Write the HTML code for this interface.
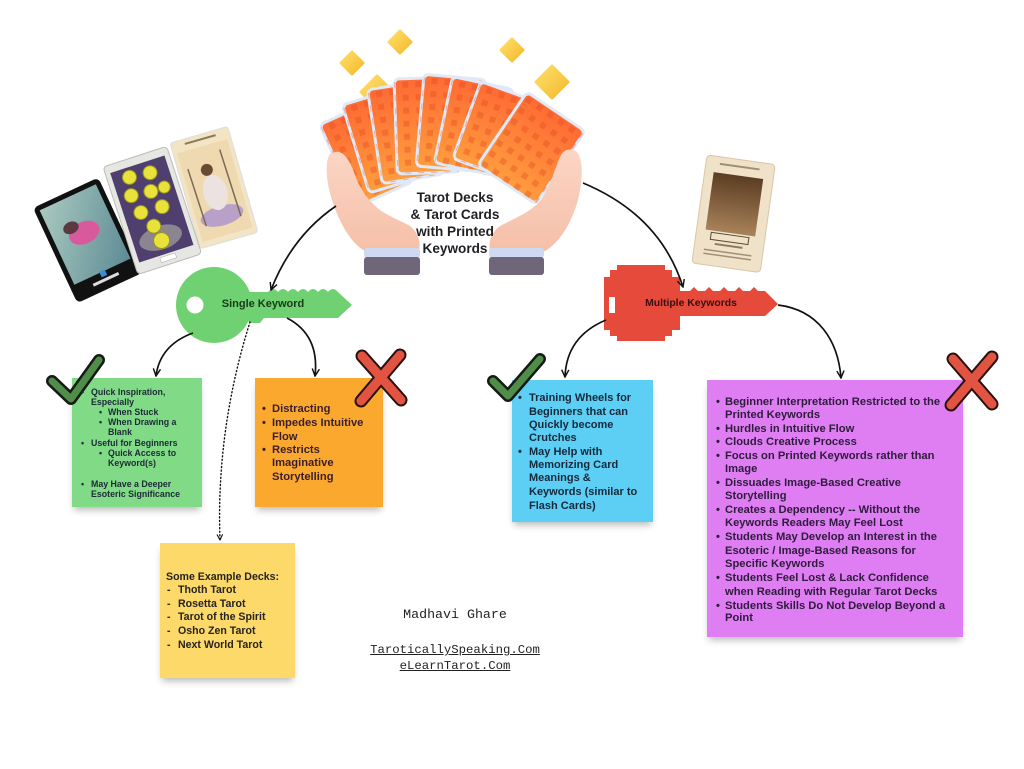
<!DOCTYPE html>
<html><head><meta charset="utf-8">
<style>
html,body{margin:0;padding:0;background:#fff;}
body{width:1024px;height:769px;position:relative;overflow:hidden;font-family:"Liberation Sans",sans-serif;}
svg{position:absolute;left:0;top:0;}
.note{position:absolute;box-shadow:0 5px 7px -2px rgba(0,0,0,0.28);}
.t{position:absolute;white-space:nowrap;font-weight:bold;}
.g .t{font-size:8.8px;line-height:10px;color:#1c2a36;}
.o .t{font-size:11.2px;line-height:14px;color:#3a1d2c;}
.b .t{font-size:11px;line-height:14px;color:#16283a;}
.p .t{font-size:11.2px;line-height:14px;color:#2e1b3d;}
.y .t{font-size:10.6px;line-height:14px;color:#262220;}
.k{position:absolute;white-space:nowrap;font-weight:bold;}
.m{position:absolute;white-space:nowrap;font-family:"Liberation Mono",monospace;color:#222;text-align:center;}
</style></head>
<body>
<svg width="1024" height="769" viewBox="0 0 1024 769" xmlns="http://www.w3.org/2000/svg">
<defs>
 <linearGradient id="og" x1="0" y1="0" x2="0" y2="1"><stop offset="0" stop-color="#ff6a34"/><stop offset="1" stop-color="#ff9d3e"/></linearGradient>
 <pattern id="pat" width="13" height="13" patternUnits="userSpaceOnUse"><rect x="3" y="3" width="6" height="6" fill="#e0451c" opacity=".35"/></pattern>
 <linearGradient id="sk" x1="0" y1="0" x2="0" y2="1"><stop offset="0" stop-color="#fbd5c5"/><stop offset="1" stop-color="#f5c0a8"/></linearGradient>
 <linearGradient id="dia" x1="0" y1="0" x2="1" y2="1"><stop offset="0" stop-color="#fde06a"/><stop offset="1" stop-color="#f5b82c"/></linearGradient>
 <linearGradient id="wat" x1="0" y1="0" x2="1" y2="1"><stop offset="0" stop-color="#a9c9bf"/><stop offset="1" stop-color="#5d8b95"/></linearGradient>
 <linearGradient id="lov" x1="0" y1="0" x2="0" y2="1"><stop offset="0" stop-color="#5b3d22"/><stop offset="1" stop-color="#a8825a"/></linearGradient>
 <marker id="ah" viewBox="0 0 10 10" refX="9" refY="5" markerWidth="9" markerHeight="9" markerUnits="userSpaceOnUse" orient="auto"><path d="M1,1 L9,5 L1,9" fill="none" stroke="#111" stroke-width="1.6"/></marker>
 <marker id="ah2" viewBox="0 0 10 10" refX="9" refY="5" markerWidth="7" markerHeight="7" markerUnits="userSpaceOnUse" orient="auto"><path d="M1,1 L9,5 L1,9" fill="none" stroke="#111" stroke-width="1.6"/></marker>
</defs>

<!-- left tarot cards -->
<g transform="translate(33,208) rotate(-25)">
 <rect x="0" y="0" width="72" height="105" rx="5" fill="#111"/>
 <rect x="5" y="5" width="62" height="82" fill="url(#wat)"/>
 <ellipse cx="36" cy="44" rx="16" ry="11" fill="#d95a9c"/>
 <ellipse cx="26" cy="34" rx="8" ry="6" fill="#5a3a40"/>
 <rect x="33" y="86" width="6" height="6" fill="#3b8ad6"/>
 <rect x="22" y="94" width="28" height="3" fill="#ddd"/>
</g>
<g transform="translate(170,143) rotate(-16)">
 <rect x="0" y="0" width="60" height="110" rx="3" fill="#f3e4c4" stroke="#ddd" stroke-width="1"/>
 <rect x="4" y="12" width="52" height="92" fill="#efd9b0"/>
 <rect x="14" y="4" width="32" height="2" fill="#8a7a60"/>
 <ellipse cx="30" cy="84" rx="22" ry="10" fill="#b8a0c8"/>
 <ellipse cx="30" cy="60" rx="12" ry="18" fill="#ece3e0"/>
 <circle cx="28" cy="36" r="6" fill="#6a4a30"/>
 <line x1="46" y1="20" x2="48" y2="90" stroke="#7a6a55" stroke-width="1.5"/>
 <line x1="10" y1="30" x2="12" y2="90" stroke="#7a6a55" stroke-width="1.5"/>
</g>
<g transform="translate(103,167) rotate(-18)">
 <rect x="0" y="0" width="67" height="113" rx="4" fill="#e6e6e2" stroke="#bdbdb8" stroke-width="1"/>
 <rect x="5" y="8" width="57" height="94" fill="#4e3f6e"/>
 <ellipse cx="33" cy="85" rx="22" ry="12" fill="#8a8590"/>
 <g fill="#e8e23a" stroke="#9a9420" stroke-width="1">
  <circle cx="22" cy="18" r="7"/><circle cx="43" cy="20" r="7"/>
  <circle cx="18" cy="36" r="7"/><circle cx="38" cy="38" r="7"/>
  <circle cx="52" cy="38" r="6"/>
  <circle cx="22" cy="55" r="7"/><circle cx="44" cy="56" r="7"/>
  <circle cx="30" cy="72" r="7"/><circle cx="33" cy="88" r="8"/>
 </g>
 <rect x="26" y="104" width="16" height="5" fill="#fff" stroke="#aaa" stroke-width=".5"/>
</g>

<!-- lovers card -->
<g transform="translate(707,155) rotate(8)">
 <rect x="0" y="0" width="69" height="109" rx="4" fill="#efe2c8" stroke="#d8c7a6" stroke-width="1"/>
 <rect x="14" y="6" width="40" height="2" fill="#a08f70"/>
 <rect x="9" y="16" width="50" height="58" fill="url(#lov)"/>
 <rect x="15" y="76" width="38" height="7" fill="none" stroke="#5a4a35" stroke-width="1"/>
 <rect x="20" y="86" width="28" height="2" fill="#8a7a60"/>
 <rect x="10" y="93" width="48" height="1.5" fill="#a09078"/>
 <rect x="10" y="97" width="48" height="1.5" fill="#a09078"/>
</g>

<!-- sparkles -->
<g fill="url(#dia)" stroke="url(#dia)" stroke-width="3" stroke-linejoin="round">
 <path d="M400,31 L411,42 L400,53 L389,42 Z"/>
 <path d="M352,52 L363,63 L352,74 L341,63 Z"/>
 <path d="M377,76 L393,92 L377,108 L361,92 Z"/>
 <path d="M512,39 L523,50 L512,61 L501,50 Z"/>
 <path d="M552,66 L568,82 L552,98 L536,82 Z"/>
</g>

<!-- hands (behind) -->
<path d="M335,150 C325,152 324,175 332,200 C340,225 352,244 365,251 L419,251 C421,240 417,232 410,226 C395,218 378,212 368,200 C358,185 352,165 347,155 C344,150 339,149 335,150 Z" fill="url(#sk)"/>

<!-- fan of cards -->
<g stroke="#dfe9f7" stroke-width="3">
 <g transform="translate(348,112) rotate(-24)"><rect x="-31" y="0" width="62" height="90" rx="5" fill="url(#og)"/><rect x="-31" y="0" width="62" height="90" fill="url(#pat)" stroke="none"/></g>
 <g transform="translate(372,96) rotate(-17)"><rect x="-31" y="0" width="62" height="92" rx="5" fill="url(#og)"/><rect x="-31" y="0" width="62" height="92" fill="url(#pat)" stroke="none"/></g>
 <g transform="translate(398,85) rotate(-9)"><rect x="-31" y="0" width="62" height="95" rx="5" fill="url(#og)"/><rect x="-31" y="0" width="62" height="95" fill="url(#pat)" stroke="none"/></g>
 <g transform="translate(425,78) rotate(-2)"><rect x="-31" y="0" width="62" height="95" rx="5" fill="url(#og)"/><rect x="-31" y="0" width="62" height="95" fill="url(#pat)" stroke="none"/></g>
 <g transform="translate(455,77) rotate(5)"><rect x="-31" y="0" width="62" height="92" rx="5" fill="url(#og)"/><rect x="-31" y="0" width="62" height="92" fill="url(#pat)" stroke="none"/></g>
 <g transform="translate(483,83) rotate(12)"><rect x="-31" y="0" width="62" height="88" rx="5" fill="url(#og)"/><rect x="-31" y="0" width="62" height="88" fill="url(#pat)" stroke="none"/></g>
 <g transform="translate(510,92) rotate(20)"><rect x="-31" y="0" width="62" height="82" rx="5" fill="url(#og)"/><rect x="-31" y="0" width="62" height="82" fill="url(#pat)" stroke="none"/></g>
 <g transform="translate(527,92) rotate(34)"><rect x="0" y="0" width="70" height="88" rx="5" fill="url(#og)"/><rect x="0" y="0" width="70" height="88" fill="url(#pat)" stroke="none"/></g>
</g>

<!-- right hand (front) and left thumb over card -->
<path d="M573,150 C583,152 584,175 578,200 C571,225 558,244 545,251 L490,251 C488,240 492,232 500,226 C515,218 531,212 541,200 C551,185 556,165 561,155 C564,150 568,149 573,150 Z" fill="url(#sk)"/>
<path d="M335,152 C327,155 327,178 334,200 C341,222 352,242 365,251 L419,251 C421,240 417,232 410,226 C398,220 388,216 380,210 C370,202 360,190 355,175 C350,160 343,150 335,152 Z" fill="url(#sk)"/>
<rect x="364" y="248" width="56" height="10" rx="3" fill="#cfdaf2"/>
<rect x="364" y="257" width="56" height="18" rx="3" fill="#6f6679"/>
<rect x="489" y="248" width="55" height="10" rx="3" fill="#cfdaf2"/>
<rect x="489" y="257" width="55" height="18" rx="3" fill="#6f6679"/>

<!-- green key -->
<g fill="#6fd171">
 <circle cx="214" cy="305" r="38"/>
 <path d="M240,292 L268,292 Q273,286 278,292 Q283,286 288,292 Q293,286 298,292 Q303,286 308,292 Q313,286 318,292 Q323,286 328,292 Q333,286 338,292 L352,305 L338,318 L264,318 L260,323 L250,323 L246,318 L240,318 Z"/>
</g>
<circle cx="195" cy="305" r="8.5" fill="#fff"/>

<!-- red key -->
<path fill="#e64a3b" d="M617,265 L665,265 L665,270 L672,270 L672,277 L680,277 L680,291 L690,291 L694,287 L698,291 L705,291 L709,287 L713,291 L720,291 L724,287 L728,291 L735,291 L739,287 L743,291 L750,291 L754,287 L758,291 L765,291 L778,304 L765,316 L680,316 L680,330 L672,330 L672,336 L665,336 L665,341 L617,341 L617,336 L610,336 L610,330 L604,330 L604,277 L610,277 L610,270 L617,270 Z"/>
<rect x="609" y="297" width="6" height="16" fill="#fff"/>

<!-- arrows -->
<g fill="none" stroke="#111" stroke-width="1.7">
 <path d="M336,206 Q292,236 271,290" marker-end="url(#ah)"/>
 <path d="M193,333 Q160,345 156,376" marker-end="url(#ah)"/>
 <path d="M287,318 C310,330 318,350 315,376" marker-end="url(#ah)"/>
 <path d="M583,183 Q660,215 683,287" marker-end="url(#ah)"/>
 <path d="M606,320 C582,330 566,348 565,377" marker-end="url(#ah)"/>
 <path d="M778,305 C818,310 838,340 841,378" marker-end="url(#ah)"/>
 <path d="M250,322 Q216,430 220,540" stroke-dasharray="1 2.6" stroke-linecap="round" stroke-width="1.4" marker-end="url(#ah2)"/>
</g>
</svg>

<!-- notes -->
<div class="note" style="left:72px;top:378px;width:130px;height:129px;background:#80da86;"></div>
<div class="note" style="left:255px;top:378px;width:128px;height:129px;background:#fba92e;"></div>
<div class="note" style="left:512px;top:380px;width:141px;height:142px;background:#5dcff5;"></div>
<div class="note" style="left:707px;top:380px;width:256px;height:257px;background:#df7ef2;"></div>
<div class="note" style="left:160px;top:543px;width:135px;height:135px;background:#fcd968;"></div>

<svg width="1024" height="769" viewBox="0 0 1024 769" xmlns="http://www.w3.org/2000/svg">
 <g fill="none" stroke-linecap="round" stroke-linejoin="round">
  <path d="M52,381 L71,399 L99,360" stroke="#151a15" stroke-width="12"/>
  <path d="M52,381 L71,399 L99,360" stroke="#4f8d49" stroke-width="7"/>
  <path d="M493,381 L508,396 L540,359" stroke="#151a15" stroke-width="12"/>
  <path d="M493,381 L508,396 L540,359" stroke="#4f8d49" stroke-width="7"/>
  <path d="M362,356 L401,400 M400,355 L361,401" stroke="#2a1010" stroke-width="13"/>
  <path d="M362,356 L401,400 M400,355 L361,401" stroke="#e25442" stroke-width="9"/>
  <path d="M953,359 L992,404 M992,357 L951,405" stroke="#2a1010" stroke-width="13"/>
  <path d="M953,359 L992,404 M992,357 L951,405" stroke="#e25442" stroke-width="9"/>
 </g>
</svg>

<div class="k" style="left:455px;top:189px;width:0;"><div style="position:absolute;left:-70px;width:140px;text-align:center;font-size:13.6px;line-height:17px;color:#1f1f24;">Tarot Decks<br>&amp; Tarot Cards<br>with Printed<br>Keywords</div></div>

<div class="k" style="left:213px;top:298px;width:100px;text-align:center;font-size:11px;color:#173a18;">Single Keyword</div>
<div class="k" style="left:631px;top:298px;width:120px;text-align:center;font-size:10.4px;color:#3a0e0e;">Multiple Keywords</div>

<div class="g">
 <div class="t" style="left:81px;top:387px">•</div><div class="t" style="left:91px;top:387px">Quick Inspiration,</div>
 <div class="t" style="left:91px;top:397px">Especially</div>
 <div class="t" style="left:99px;top:407px">•</div><div class="t" style="left:108px;top:407px">When Stuck</div>
 <div class="t" style="left:99px;top:417px">•</div><div class="t" style="left:108px;top:417px">When Drawing a</div>
 <div class="t" style="left:108px;top:427px">Blank</div>
 <div class="t" style="left:81px;top:438px">•</div><div class="t" style="left:91px;top:438px">Useful for Beginners</div>
 <div class="t" style="left:99px;top:448px">•</div><div class="t" style="left:108px;top:448px">Quick Access to</div>
 <div class="t" style="left:108px;top:458px">Keyword(s)</div>
 <div class="t" style="left:81px;top:479px">•</div><div class="t" style="left:91px;top:479px">May Have a Deeper</div>
 <div class="t" style="left:91px;top:489px">Esoteric Significance</div>
</div>

<div class="o">
 <div class="t" style="left:262px;top:402px">•</div><div class="t" style="left:272px;top:402px">Distracting</div>
 <div class="t" style="left:262px;top:416px">•</div><div class="t" style="left:272px;top:416px">Impedes Intuitive</div>
 <div class="t" style="left:272px;top:430px">Flow</div>
 <div class="t" style="left:262px;top:443px">•</div><div class="t" style="left:272px;top:443px">Restricts</div>
 <div class="t" style="left:272px;top:456px">Imaginative</div>
 <div class="t" style="left:272px;top:470px">Storytelling</div>
</div>

<div class="b">
 <div class="t" style="left:518px;top:391px">•</div><div class="t" style="left:529px;top:391px">Training Wheels for</div>
 <div class="t" style="left:529px;top:405px">Beginners that can</div>
 <div class="t" style="left:529px;top:418px">Quickly become</div>
 <div class="t" style="left:529px;top:431px">Crutches</div>
 <div class="t" style="left:518px;top:445px">•</div><div class="t" style="left:529px;top:445px">May Help with</div>
 <div class="t" style="left:529px;top:458px">Memorizing Card</div>
 <div class="t" style="left:529px;top:471px">Meanings &amp;</div>
 <div class="t" style="left:529px;top:485px">Keywords (similar to</div>
 <div class="t" style="left:529px;top:499px">Flash Cards)</div>
</div>

<div class="p">
 <div class="t" style="left:716px;top:395px">•</div><div class="t" style="left:725px;top:395px">Beginner Interpretation Restricted to the</div>
 <div class="t" style="left:725px;top:408px">Printed Keywords</div>
 <div class="t" style="left:716px;top:422px">•</div><div class="t" style="left:725px;top:422px">Hurdles in Intuitive Flow</div>
 <div class="t" style="left:716px;top:435px">•</div><div class="t" style="left:725px;top:435px">Clouds Creative Process</div>
 <div class="t" style="left:716px;top:449px">•</div><div class="t" style="left:725px;top:449px">Focus on Printed Keywords rather than</div>
 <div class="t" style="left:725px;top:462px">Image</div>
 <div class="t" style="left:716px;top:476px">•</div><div class="t" style="left:725px;top:476px">Dissuades Image-Based Creative</div>
 <div class="t" style="left:725px;top:489px">Storytelling</div>
 <div class="t" style="left:716px;top:503px">•</div><div class="t" style="left:725px;top:503px">Creates a Dependency -- Without the</div>
 <div class="t" style="left:725px;top:516px">Keywords Readers May Feel Lost</div>
 <div class="t" style="left:716px;top:530px">•</div><div class="t" style="left:725px;top:530px">Students May Develop an Interest in the</div>
 <div class="t" style="left:725px;top:544px">Esoteric / Image-Based Reasons for</div>
 <div class="t" style="left:725px;top:557px">Specific Keywords</div>
 <div class="t" style="left:716px;top:571px">•</div><div class="t" style="left:725px;top:571px">Students Feel Lost &amp; Lack Confidence</div>
 <div class="t" style="left:725px;top:585px">when Reading with Regular Tarot Decks</div>
 <div class="t" style="left:716px;top:599px">•</div><div class="t" style="left:725px;top:599px">Students Skills Do Not Develop Beyond a</div>
 <div class="t" style="left:725px;top:611px">Point</div>
</div>

<div class="y">
 <div class="t" style="left:166px;top:570px">Some Example Decks:</div>
 <div class="t" style="left:167px;top:583px">-</div><div class="t" style="left:178px;top:583px">Thoth Tarot</div>
 <div class="t" style="left:167px;top:597px">-</div><div class="t" style="left:178px;top:597px">Rosetta Tarot</div>
 <div class="t" style="left:167px;top:610px">-</div><div class="t" style="left:178px;top:610px">Tarot of the Spirit</div>
 <div class="t" style="left:167px;top:624px">-</div><div class="t" style="left:178px;top:624px">Osho Zen Tarot</div>
 <div class="t" style="left:167px;top:638px">-</div><div class="t" style="left:178px;top:638px">Next World Tarot</div>
</div>

<div class="m" style="left:355px;top:607px;width:200px;font-size:13.3px;line-height:16px;">Madhavi Ghare</div>
<div class="m" style="left:335px;top:642px;width:240px;font-size:12.3px;line-height:16px;text-decoration:underline;">TaroticallySpeaking.Com</div>
<div class="m" style="left:335px;top:658px;width:240px;font-size:12.3px;line-height:16px;text-decoration:underline;">eLearnTarot.Com</div>
</body></html>
